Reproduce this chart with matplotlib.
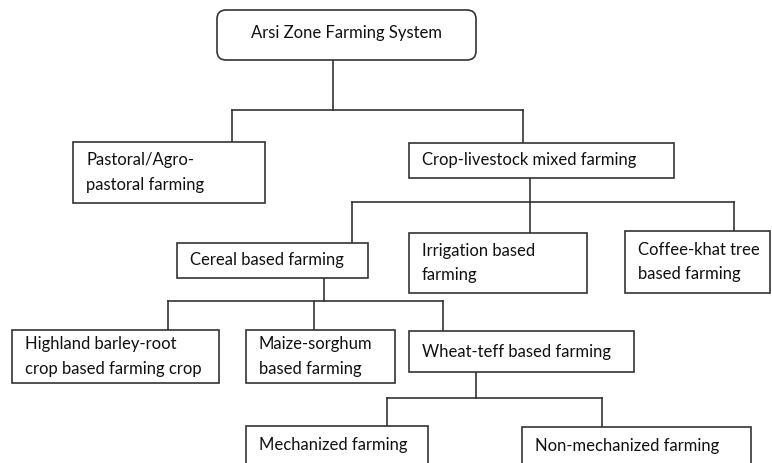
import matplotlib.pyplot as plt
from matplotlib.patches import FancyBboxPatch, Rectangle

plt.rcParams['font.family'] = ['Lato', 'DejaVu Sans']

# Node labels
root_label = "Arsi Zone Farming System"
level1_labels = ["Pastoral/Agro-\npastoral farming", "Crop-livestock mixed farming"]
level2_labels = ["Cereal based farming", "Irrigation based\nfarming", "Coffee-khat tree\nbased farming"]
level3_labels = ["Highland barley-root\ncrop based farming crop", "Maize-sorghum\nbased farming",
                 "Wheat-teff based farming"]
level4_labels = ["Mechanized farming", "Non-mechanized farming"]

# Box layout in pixel coords: (x0, y0, x1, y1)
root_box = (217, 10, 476, 60)
level1_boxes = [(73, 142, 265, 203), (409, 143, 674, 178)]
level2_boxes = [(177, 243, 368, 278), (409, 233, 587, 293), (625, 231, 770, 293)]
level3_boxes = [(12, 330, 219, 383), (246, 330, 395, 383), (409, 331, 634, 372)]
level4_boxes = [(246, 426, 428, 480), (522, 427, 751, 480)]

line_color = "#333333"
text_color = "#111111"
lw = 1.2

fig = plt.figure(figsize=(7.72, 4.63), dpi=100)
ax = fig.add_axes([0, 0, 1, 1])
ax.set_xlim(0, 772)
ax.set_ylim(463, 0)
ax.axis("off")


def draw_box(box, label, rounded=False, text_x=None, fontsize=12):
    x0, y0, x1, y1 = box
    if rounded:
        patch = FancyBboxPatch((x0, y0), x1 - x0, y1 - y0,
                               boxstyle="round,pad=0,rounding_size=9",
                               fc="white", ec=line_color, lw=lw, zorder=2)
    else:
        patch = Rectangle((x0, y0), x1 - x0, y1 - y0,
                          fc="white", ec=line_color, lw=lw, zorder=2)
    ax.add_patch(patch)
    if text_x is None:
        ax.text((x0 + x1) / 2, (y0 + y1) / 2 - 2, label,
                ha="center", va="center", fontsize=fontsize, color=text_color, zorder=3)
    else:
        yc = (y0 + y1) / 2 if y1 <= 463 else y0 + 19
        ax.text(x0 + text_x, yc, label, ha="left", va="center",
                fontsize=fontsize, color=text_color, linespacing=1.65, zorder=3)


def connector(parent_x, parent_y, bar_y, child_xs, child_ys):
    ax.plot([parent_x, parent_x], [parent_y, bar_y], color=line_color, lw=lw, zorder=1)
    ax.plot([min(child_xs), max(child_xs)], [bar_y, bar_y], color=line_color, lw=lw, zorder=1)
    for cx, cy in zip(child_xs, child_ys):
        ax.plot([cx, cx], [bar_y, cy], color=line_color, lw=lw, zorder=1)


# Connectors
connector(333, 60, 110, [232, 523], [142, 143])
connector(530, 178, 202, [352, 530, 734], [243, 233, 231])
connector(324, 278, 301, [168, 314, 443], [330, 330, 331])
connector(476, 372, 398, [387, 602], [426, 427])

# Boxes
draw_box(root_box, root_label, rounded=True)
for box, label in zip(level1_boxes, level1_labels):
    draw_box(box, label, text_x=13)
for box, label in zip(level2_boxes, level2_labels):
    draw_box(box, label, text_x=13)
for box, label in zip(level3_boxes, level3_labels):
    draw_box(box, label, text_x=13)
for box, label in zip(level4_boxes, level4_labels):
    draw_box(box, label, text_x=13)

fig.savefig("out.png", dpi=100)
